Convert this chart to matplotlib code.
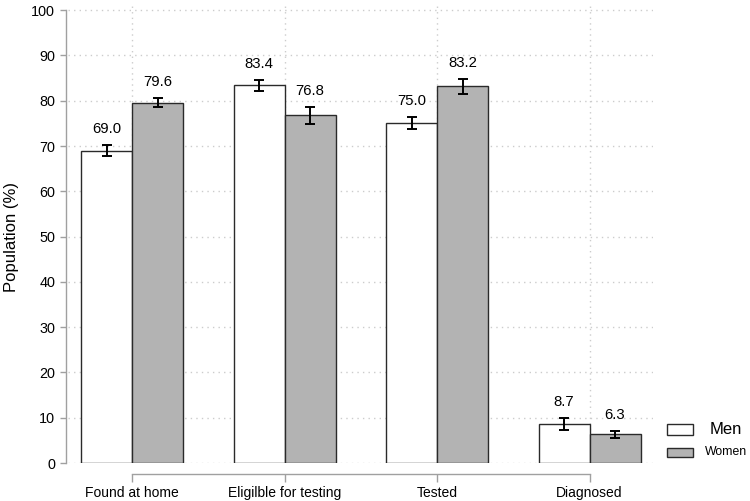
import matplotlib
matplotlib.use("Agg")
import matplotlib.pyplot as plt
import numpy as np
from matplotlib.patches import Rectangle

plt.rcParams['font.family'] = ['Liberation Sans', 'DejaVu Sans']

categories = ["Found at home", "Eligilble for testing", "Tested", "Diagnosed"]
series_names = ["Men", "Women"]
men = [69.0, 83.4, 75.0, 8.7]
women = [79.6, 76.8, 83.2, 6.3]
men_err = [1.3, 1.2, 1.35, 1.3]
women_err = [0.9, 1.9, 1.65, 0.85]
yticks = [0, 10, 20, 30, 40, 50, 60, 70, 80, 90, 100]

fig = plt.figure(figsize=(7.5, 5.01), dpi=100)
ax = fig.add_axes([0.0907, 0.0758, 0.78, 0.9202])

x = np.arange(len(categories))
w = 0.334
edge = '#2a2a2a'
colors = ['white', '#b3b3b3']
ax.bar(x - w/2, men, width=w, color=colors[0], edgecolor=edge, linewidth=1.0, zorder=3)
ax.bar(x + w/2, women, width=w, color=colors[1], edgecolor=edge, linewidth=1.0, zorder=3)
ax.errorbar(x - w/2, men, yerr=men_err, fmt='none', ecolor='black', elinewidth=1.4, capsize=3.5, capthick=1.4, zorder=4)
ax.errorbar(x + w/2, women, yerr=women_err, fmt='none', ecolor='black', elinewidth=1.4, capsize=3.5, capthick=1.4, zorder=4)

for xi, v, e in zip(x - w/2, men, men_err):
    ax.text(xi, v + e + 2.0, f"{v:.1f}", ha='center', va='bottom', fontsize=10.7, zorder=5)
for xi, v, e in zip(x + w/2, women, women_err):
    ax.text(xi, v + e + 2.0, f"{v:.1f}", ha='center', va='bottom', fontsize=10.7, zorder=5)

ax.set_xlim(-0.42, 3.416)
ax.set_ylim(0, 101.8)
ax.set_yticks(yticks)
ax.set_xticks(x)
ax.set_xticklabels(categories, fontsize=10.2)
ax.tick_params(axis='y', labelsize=10.4, length=4.3, color='#a0a0a0', width=1.0, pad=3.6)
ax.tick_params(axis='x', length=5.8, color='#a0a0a0', width=1.0, pad=3.0)

ax.grid(True, linestyle=(0, (1, 3)), color='#cccccc', linewidth=1.0, zorder=0)

for s in ['top', 'right']:
    ax.spines[s].set_visible(False)
ax.spines['left'].set_bounds(0, 100)
ax.spines['left'].set_color('#a0a0a0')
ax.spines['left'].set_linewidth(1.0)
ax.spines['left'].set_position(('outward', 1.4))
ax.spines['bottom'].set_bounds(0, 3)
ax.spines['bottom'].set_color('#a0a0a0')
ax.spines['bottom'].set_linewidth(1.0)
ax.spines['bottom'].set_position(('outward', 8))

ax.set_ylabel("Population (%)", fontsize=12)
ax.yaxis.set_label_coords(-0.084, 50 / 101.8)

# legend (manual, centered labels as in the reference)
leg_rects = [(0.889, 0.1317, 0.035, 0.022), (0.889, 0.0884, 0.035, 0.018)]
leg_text_y = [0.1427, 0.0978]
leg_sizes = [12, 8.8]
for (lx, ly, lw, lh), c, name, ty, fs in zip(leg_rects, colors, series_names, leg_text_y, leg_sizes):
    fig.add_artist(Rectangle((lx, ly), lw, lh, transform=fig.transFigure,
                             facecolor=c, edgecolor=edge, linewidth=1.0))
    fig.text(0.968, ty, name, ha='center', va='center', fontsize=fs)

fig.savefig("out.png", dpi=100)
